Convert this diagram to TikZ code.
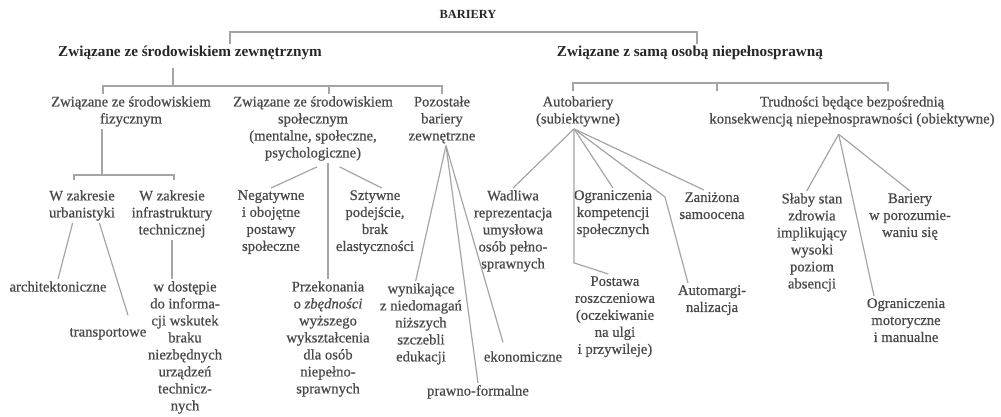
\documentclass[tikz,border=0pt]{standalone}
\usepackage{fontspec}
\setmainfont{Liberation Serif}
\newfontfamily\lblfont{Liberation Serif}[FakeBold=0.6]
\usepackage{tikz}
\usetikzlibrary{positioning}
\definecolor{inkgray}{RGB}{72,72,72}
\definecolor{linkgray}{RGB}{165,165,165}

\begin{document}
\begin{tikzpicture}[x=0.75pt,y=-0.75pt,
    lbl/.style={anchor=north,align=center,inner sep=1.5pt,text=inkgray,
      font=\lblfont\fontsize{11}{12.75}\selectfont},
    lbl1/.style={lbl,anchor=base},
    head/.style={lbl1,text=black!85,font=\bfseries\fontsize{11.4}{13}\selectfont},
    link/.style={draw=linkgray,line width=0.9pt}]
		\useasboundingbox (0,0) rectangle (1001,417);
		% Top
		\node[head,font=\bfseries\fontsize{9.3}{11}\selectfont] (bar) at (468,19) {BARIERY};
		\node[head] (zew) at (190,57) {Związane ze środowiskiem zewnętrznym};
		\node[head] (osoba) at (690,57) {Związane z samą osobą niepełnosprawną};
		% Level 2
		\node[lbl] (fiz) at (131,94) {Związane ze środowiskiem\\fizycznym};
		\node[lbl] (spol) at (313,94) {Związane ze środowiskiem\\społecznym\\(mentalne, społeczne,\\psychologiczne)};
		\node[lbl] (poz) at (442,94) {Pozostałe\\bariery\\zewnętrzne};
		\node[lbl] (auto) at (578,94) {Autobariery\\(subiektywne)};
		\node[lbl] (trud) at (852,94) {Trudności będące bezpośrednią\\konsekwencją niepełnosprawności (obiektywne)};
		% Level 3
		\node[lbl] (urb) at (82,188) {W zakresie\\urbanistyki};
		\node[lbl] (infra) at (172,188) {W zakresie\\infrastruktury\\technicznej};
		\node[lbl] (neg) at (271,188) {Negatywne\\i obojętne\\postawy\\społeczne};
		\node[lbl] (szt) at (375,188) {Sztywne\\podejście,\\brak\\elastyczności};
		\node[lbl] (wad) at (513,188) {Wadliwa\\reprezentacja\\umysłowa\\osób pełno-\\sprawnych};
		\node[lbl] (ogk) at (613,188) {Ograniczenia\\kompetencji\\społecznych};
		\node[lbl] (zan) at (712,190) {Zaniżona\\samoocena};
		\node[lbl] (slab) at (812,191) {Słaby stan\\zdrowia\\implikujący\\wysoki\\poziom\\absencji};
		\node[lbl] (barp) at (910,191) {Bariery\\w porozumie-\\waniu się};
		% Level 4
		\node[lbl1] (arch) at (58,291.5) {architektoniczne};
		\node[lbl1] (trans) at (108,336.5) {transportowe};
		\node[lbl] (dost) at (185,279) {w dostępie\\do informa-\\cji wskutek\\braku\\niezbędnych\\urządzeń\\technicz-\\nych};
		\node[lbl] (przek) at (328,279) {Przekonania\\o \textit{zbędności}\\wyższego\\wykształcenia\\dla osób\\niepełno-\\sprawnych};
		\node[lbl] (wyn) at (421,281) {wynikające\\z niedomagań\\niższych\\szczebli\\edukacji};
		\node[lbl1] (praw) at (478,395.5) {prawno-formalne};
		\node[lbl1] (eko) at (523,361.5) {ekonomiczne};
		\node[lbl] (post) at (615,274) {Postawa\\roszczeniowa\\(oczekiwanie\\na ulgi\\i przywileje)};
		\node[lbl] (amarg) at (712,283) {Automargi-\\nalizacja};
		\node[lbl] (ogm) at (906,296) {Ograniczenia\\motoryczne\\i manualne};
		% Brackets
		\coordinate (tl) at (230,32);
		\coordinate (tr) at (697,32);
		\draw[link] (tl |- zew.north) -- (tl) -- (tr) -- (tr |- osoba.north);
		\coordinate (l0) at (173,86);
		\coordinate (l1) at (103,86);
		\coordinate (l2) at (329,86);
		\coordinate (l3) at (442,86);
		\draw[link,shorten <=4pt] (l0 |- zew.south) -- (l0);
		\draw[link] (l1 |- fiz.north) -- (l1) -- (l3) -- (l3 |- poz.north);
		\draw[link] (l2) -- (l2 |- spol.north);
		\coordinate (r1) at (573,83);
		\coordinate (r2) at (717,83);
		\coordinate (r3) at (888,83);
		\draw[link,shorten <=2pt,shorten >=2pt] (r1 |- auto.north) -- (r1) -- (r3) -- (r3 |- trud.north);
		\draw[link,shorten >=2pt] (r2) -- (r2 |- trud.north);
		\coordinate (f0) at (102,175);
		\coordinate (f1) at (74,175);
		\coordinate (f2) at (174,175);
		\draw[link] (f0 |- fiz.south) -- (f0);
		\draw[link,shorten <=6pt,shorten >=6pt] (f1 |- urb.north) -- (f1) -- (f2) -- (f2 |- infra.north);
		% Fizyczne
		\draw[link] ([xshift=-7pt]urb.south) -- (arch.north);
		\draw[link] ([xshift=13pt]urb.south) -- ([xshift=15pt,yshift=8pt]trans.north);
		\draw[link] (infra.south) -- (infra.south |- dost.north);
		% Spoleczne
		\draw[link] ([xshift=3pt,yshift=-3pt]spol.south) -- (neg.north);
		\draw[link] ([xshift=20pt,yshift=-3pt]spol.south) -- ([xshift=5pt]szt.north);
		\draw[link] (przek.north |- spol.south) -- (przek.north);
		% Pozostale
		\draw[link] ([xshift=3pt]poz.south) -- ([xshift=-4pt]wyn.north);
		\draw[link] ([xshift=3pt]poz.south) -- (praw.north);
		\draw[link] ([xshift=3pt]poz.south) -- ([xshift=-15pt,yshift=5pt]eko.north);
		% Autobariery
		\coordinate (kink) at (665,197);
		\draw[link] ([xshift=-3pt]auto.south) -- (wad.north);
		\draw[link] ([xshift=-3pt]auto.south) -- ++(0,134) -- ([xshift=-5pt]post.north);
		\draw[link] ([xshift=-3pt]auto.south) -- (ogk.north);
		\draw[link] ([xshift=-3pt]auto.south) -- (kink) -- ([xshift=-18pt]amarg.north);
		\draw[link] ([xshift=-3pt]auto.south) -- ([xshift=-6pt]zan.north);
		% Obiektywne
		\draw[link] ([xshift=-10pt,yshift=-4pt]trud.south) -- ([xshift=-4pt]slab.north);
		\draw[link] ([xshift=-10pt,yshift=-4pt]trud.south) -- ([xshift=-24pt]ogm.north);
		\draw[link] ([xshift=-10pt,yshift=-4pt]trud.south) -- (barp.north);
	\end{tikzpicture}
\end{document}
